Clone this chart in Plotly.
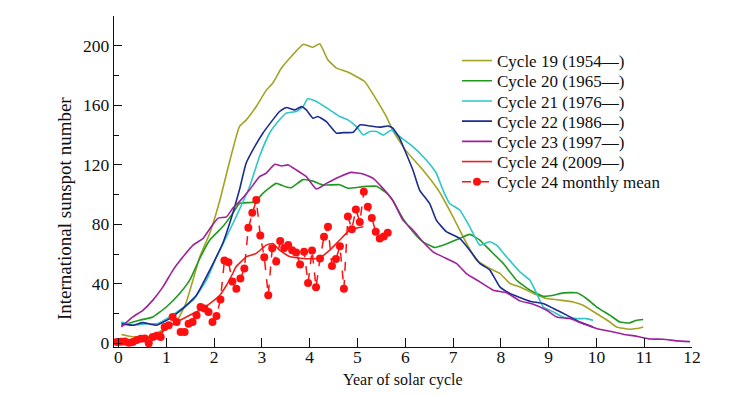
import plotly.graph_objects as go

# ---- data ----
c19_x = [0.06, 0.5, 0.79, 1.21, 1.42, 1.70, 1.91, 2.12, 2.28, 2.53, 2.67, 2.88, 3.09, 3.23, 3.41, 3.62, 3.87, 4.07, 4.21, 4.38, 4.56, 4.77, 4.91, 5.15, 5.40, 5.61, 5.74, 6.0, 6.37, 6.69, 7.0, 7.21, 7.49, 7.77, 7.98, 8.19, 8.40, 8.68, 8.96, 9.24, 9.51, 9.72, 10.0, 10.28, 10.42, 10.70, 10.84, 10.98]
c19_y = [5.9, 3.4, 6.7, 14.3, 27.8, 58, 74, 96, 116.5, 145.6, 150, 159, 170, 175, 185, 193, 201, 199, 201.3, 190.6, 185, 182.7, 180.5, 176, 163.6, 152, 143, 130, 116.5, 103, 85, 71.6, 55.9, 50.3, 47, 40.2, 37.9, 33.5, 30.1, 29, 27.8, 25.6, 20, 14.3, 11, 9.4, 9.9, 11]

c20_x = [0.06, 0.44, 0.72, 1.0, 1.28, 1.49, 1.70, 1.91, 2.18, 2.39, 2.53, 2.85, 3.02, 3.30, 3.51, 3.62, 3.86, 4.07, 4.28, 4.63, 4.80, 5.12, 5.40, 5.61, 5.74, 5.95, 6.16, 6.37, 6.62, 6.86, 7.14, 7.35, 7.56, 7.77, 8.05, 8.33, 8.61, 8.89, 9.10, 9.30, 9.59, 9.79, 10.0, 10.28, 10.49, 10.70, 10.84, 10.98]
c20_y = [12, 15.5, 17.7, 24.4, 33.5, 42.4, 57, 69.4, 78.3, 87.3, 94, 95, 100.8, 107.5, 105, 104.6, 110, 109, 106.4, 106.6, 104.2, 105.3, 105.5, 101, 96, 84, 75, 68.2, 64.4, 66.7, 70.5, 73.2, 69.4, 62.6, 53.7, 42.4, 35.7, 31.6, 32.3, 33.9, 33.9, 30.1, 24.5, 18.9, 14.3, 13.7, 15.5, 16]

c21_x = [0.06, 0.3, 0.58, 0.82, 1.07, 1.28, 1.56, 1.84, 2.05, 2.26, 2.46, 2.74, 2.95, 3.16, 3.37, 3.51, 3.72, 3.86, 3.96, 4.14, 4.42, 4.63, 4.80, 4.98, 5.12, 5.26, 5.40, 5.54, 5.71, 5.88, 6.16, 6.44, 6.65, 6.79, 6.93, 7.14, 7.35, 7.56, 7.77, 7.91, 8.12, 8.40, 8.61, 8.75, 8.89, 9.10, 9.30, 9.59, 9.79, 9.93]
c21_y = [14.3, 12.1, 13.2, 13.2, 17.7, 22.2, 29, 42.4, 58, 71.6, 85, 105, 125.5, 141.2, 150.2, 154.7, 155.8, 159, 164.3, 162.5, 156.9, 152.4, 150.2, 145.6, 140, 142.3, 142.3, 140, 143.4, 139, 132.2, 123.2, 114.3, 103, 94, 89.6, 78.3, 66, 68.2, 66, 58.1, 48, 42.4, 33.5, 24.4, 21.1, 17.7, 16.6, 16.6, 15.5]

c22_x = [0.06, 0.3, 0.51, 0.79, 1.07, 1.35, 1.63, 1.91, 2.18, 2.39, 2.53, 2.67, 2.85, 3.02, 3.20, 3.37, 3.51, 3.69, 3.83, 3.93, 4.07, 4.17, 4.35, 4.56, 4.70, 4.91, 5.05, 5.26, 5.47, 5.64, 5.74, 5.88, 6.16, 6.30, 6.51, 6.65, 6.86, 7.14, 7.35, 7.56, 7.77, 7.98, 8.19, 8.40, 8.61, 8.89, 9.10, 9.38, 9.65, 9.93]
c22_y = [13.2, 12.1, 13.9, 12.1, 16.6, 23.4, 32.3, 49.2, 67.1, 87.3, 103, 121, 132.2, 141.2, 149, 155.8, 158.5, 156.9, 159.1, 156.9, 151.3, 152.4, 149, 141.2, 141.6, 141.9, 146.8, 146.1, 145.3, 146.1, 144.6, 137.9, 116.5, 103, 94, 82.8, 75, 70.5, 62.6, 53.7, 49.2, 37.9, 33.5, 30.8, 28.3, 26.7, 23.4, 18.9, 14.3, 11]

c23_x = [0.06, 0.3, 0.51, 0.72, 0.93, 1.14, 1.35, 1.56, 1.77, 1.94, 2.08, 2.26, 2.39, 2.53, 2.74, 2.95, 3.09, 3.27, 3.41, 3.55, 3.72, 3.93, 4.14, 4.35, 4.63, 4.87, 5.12, 5.33, 5.50, 5.74, 5.95, 6.16, 6.37, 6.58, 6.79, 7.07, 7.28, 7.56, 7.84, 8.12, 8.40, 8.68, 8.96, 9.17, 9.44, 9.72, 10.0, 10.28, 10.56, 10.84, 11.12, 11.40, 11.68, 11.96]
c23_y = [11, 17.7, 22.2, 29, 37.9, 49.2, 58.1, 66, 70.5, 78.3, 84, 85, 90.7, 95.2, 103, 112, 114.3, 120.3, 119.2, 119.9, 116.5, 112, 103.7, 107.5, 112, 114.9, 113.8, 110.9, 105.3, 96, 82.8, 76.1, 68.2, 61.5, 58.1, 53.7, 46.9, 41.3, 35.7, 33.9, 28.5, 26.3, 22.2, 17.7, 16.6, 13.2, 9.9, 8.1, 6.1, 4.7, 2.9, 2.7, 1.6, 1.1]

c24_x = [0.0, 0.5, 0.79, 1.0, 1.21, 1.42, 1.70, 1.91, 2.12, 2.26, 2.39, 2.46, 2.60, 2.67, 2.88, 3.09, 3.23, 3.37, 3.58, 3.86, 4.14, 4.21, 4.42, 4.63, 4.84, 5.12]
c24_y = [1.0, 2.5, 5.4, 9.9, 14.3, 17.7, 22.2, 26.7, 32.3, 39, 46.9, 51.4, 55.9, 58.1, 60.4, 66, 67.1, 62.6, 58.3, 57, 57, 57.4, 62.6, 69.4, 76.1, 78.3]

# Cycle 24 monthly means, one per month from the start of the cycle
month_index = list(range(69))
monthly_mean = [0.9, 1.0, 1.2, 0.3, 0.9, 2.2, 3.0, 3.2, 0.0, 4.3, 5.0, 4.3,
                11.0, 12.1, 17.7, 14.3, 7.6, 7.6, 13.2, 14.3, 18.9, 24.4, 23.4, 21.1,
                14.3, 18.3, 29.5, 55.6, 54.5, 41.5, 36.7, 43.5, 50.2, 77.6, 87.7, 96.3,
                72.5, 57.9, 32.3, 63.8, 55.0, 68.7, 64.0, 66.0, 62.6, 61.0, 53.0, 61.5,
                40.5, 62.4, 37.7, 57.0, 71.6, 78.3, 52.0, 56.6, 65.3, 36.7, 85.3, 76.7,
                90.0, 81.5, 101.9, 91.8, 84.2, 75.0, 70.5, 71.8, 74.3]
monthly_x = [(m - 0.4) / 12 for m in month_index]

x_ticks = list(range(13))
y_ticks = [0, 40, 80, 120, 160, 200]
y_minor = [20, 60, 100, 140, 180]

names = ["Cycle 19 (1954\u2014)", "Cycle 20 (1965\u2014)", "Cycle 21 (1976\u2014)",
         "Cycle 22 (1986\u2014)", "Cycle 23 (1997\u2014)", "Cycle 24 (2009\u2014)",
         "Cycle 24 monthly mean"]
colors = ["#a3a324", "#1f9a1f", "#2ec6c6", "#1c2c90", "#a0209c", "#e8221e", "#ff1010"]

FONT = "Liberation Serif, Times New Roman, serif"
INK = "#111111"

# figure geometry; the page body adds an 8px margin, so the figure is 8px smaller
OFF = 8
W, H = 724, 388
ML, MR, MT, MB = 106, 40, 8, 49
PW, PH = W - ML - MR, H - MT - MB


def px_to_paper_x(sx):
    return (sx - OFF - ML) / PW


def px_to_paper_y(sy):
    return (H - MB - (sy - OFF)) / PH


fig = go.Figure()
series = [(c19_x, c19_y), (c20_x, c20_y), (c21_x, c21_y), (c22_x, c22_y),
          (c23_x, c23_y), (c24_x, c24_y)]
legend_ids = ["legend"] + ["legend%d" % k for k in range(2, 8)]
for (xs, ys), nm, col, lg in zip(series, names[:6], colors[:6], legend_ids[:6]):
    fig.add_trace(go.Scatter(x=xs, y=ys, mode="lines", name=nm, legend=lg,
                             line=dict(color=col, width=1.6, shape="spline", smoothing=0.4)))

fig.add_trace(go.Scatter(x=monthly_x, y=monthly_mean, mode="lines+markers", name=names[6],
                         legend=legend_ids[6],
                         line=dict(color=colors[6], width=1.5, dash="dash"),
                         marker=dict(color=colors[6], size=8)))

legend_layout = {}
for k, lg in enumerate(legend_ids):
    legend_layout[lg] = dict(
        x=px_to_paper_x(457), y=px_to_paper_y(61 + 20.2 * k),
        xanchor="left", yanchor="middle",
        bgcolor="rgba(0,0,0,0)", borderwidth=0,
        font=dict(family=FONT, size=17, color=INK))

fig.update_layout(
    width=W, height=H,
    margin=dict(l=ML, r=MR, t=MT, b=MB, autoexpand=False),
    paper_bgcolor="white", plot_bgcolor="white",
    font=dict(family=FONT, size=17, color=INK),
    showlegend=True,
    xaxis=dict(range=[-0.094, 12.0], showgrid=False, zeroline=False, automargin=False,
               showline=True, linecolor=INK, linewidth=1.4,
               ticks="inside", ticklen=9, tickwidth=1.4, tickcolor=INK,
               tickmode="array", tickvals=x_ticks, ticktext=[str(v) for v in x_ticks],
               ticklabelstandoff=-6,
               tickfont=dict(family=FONT, size=17.5, color=INK)),
    yaxis=dict(range=[-2.5, 220], showgrid=False, zeroline=False, automargin=False,
               showline=True, linecolor=INK, linewidth=1.4,
               ticks="inside", ticklen=8, tickwidth=1.4, tickcolor=INK,
               tickmode="array", tickvals=y_ticks, ticktext=[str(v) for v in y_ticks],
               tickfont=dict(family=FONT, size=17.5, color=INK),
               minor=dict(ticks="inside", ticklen=5, tickwidth=1.4, tickcolor=INK,
                          tickmode="array", tickvals=y_minor)),
    annotations=[
        dict(text="Year of solar cycle", xref="paper", yref="paper",
             x=0.5, y=px_to_paper_y(380), xanchor="center", yanchor="middle",
             showarrow=False, font=dict(family=FONT, size=16, color=INK)),
        dict(text="International sunspot number", xref="paper", yref="paper",
             x=px_to_paper_x(65), y=px_to_paper_y(209), xanchor="center", yanchor="middle",
             textangle=-90, showarrow=False, font=dict(family=FONT, size=19, color=INK)),
    ],
    **legend_layout,
)

fig.write_html("out.html")
